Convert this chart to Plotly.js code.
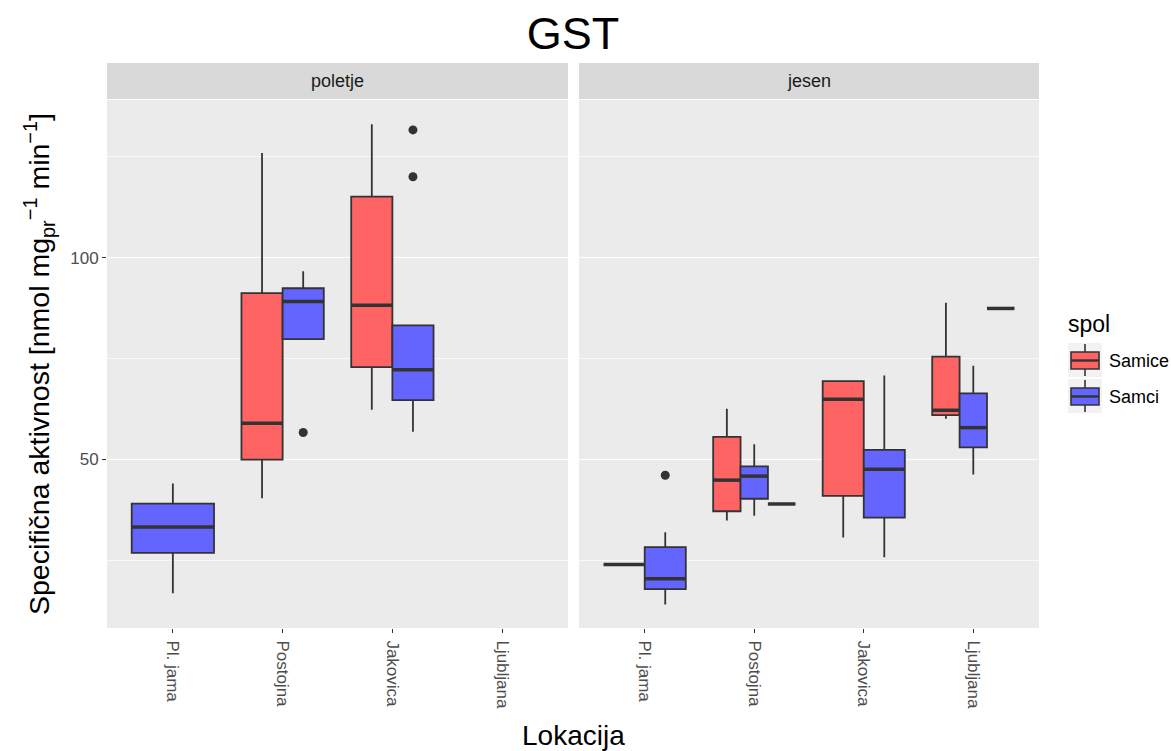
<!DOCTYPE html>
<html>
<head>
<meta charset="utf-8">
<script src="https://cdn.plot.ly/plotly-3.0.1.min.js"></script>
<style>body{margin:0;padding:0;background:#fff;}#chart{width:1171px;height:751px;}</style>
</head>
<body>
<div id="chart"></div>
<script>
// ---------------- DATA ----------------
const lokacije = ['Pl. jama', 'Postojna', 'Jakovica', 'Ljubljana'];
const sezone = ['poletje', 'jesen'];
const spoli = ['Samice', 'Samci', 'NA'];

// per location: [lowerfence, q1, median, q3, upperfence]; null = no data
const poletjeSamice = [null, [40.4, 50.0, 59.0, 91.2, 125.9], [62.3, 72.9, 88.2, 115.1, 133.0], null];
const poletjeSamci  = [[16.9, 26.9, 33.3, 39.1, 44.1], [79.8, 79.8, 89.1, 92.4, 96.6], [56.9, 64.7, 72.2, 83.2, 83.2], null];
const poletjeNA     = [null, null, null, null];
const jesenSamice   = [[24.0, 24.0, 24.0, 24.0, 24.0], [34.9, 37.2, 44.9, 55.6, 62.6], [30.7, 41.0, 64.9, 69.4, 69.4], [60.1, 61.0, 62.2, 75.5, 88.8]];
const jesenSamci    = [[14.1, 17.9, 20.5, 28.3, 32.0], [36.1, 40.3, 45.9, 48.3, 53.8], [25.8, 35.6, 47.6, 52.4, 70.8], [46.3, 53.0, 57.9, 66.4, 73.2]];
const jesenNA       = [null, [39.0, 39.0, 39.0, 39.0, 39.0], null, [87.4, 87.4, 87.4, 87.4, 87.4]];

// outliers per location
const poletjeSamciOut = [[], [56.7], [131.6, 120.0], []];
const jesenSamciOut   = [[46.1], [], [], []];
const noOut = [[], [], [], []];

// ---------------- STYLE ----------------
const barve = {Samice: '#FF6464', Samci: '#6464FF', NA: '#7F7F7F'};
const FONT = 'Liberation Sans, Arial, Helvetica, sans-serif';
const data = {
  poletje: {Samice: poletjeSamice, Samci: poletjeSamci, NA: poletjeNA},
  jesen:   {Samice: jesenSamice,   Samci: jesenSamci,   NA: jesenNA}
};
const outl = {
  poletje: {Samice: noOut, Samci: poletjeSamciOut, NA: noOut},
  jesen:   {Samice: noOut, Samci: jesenSamciOut,   NA: noOut}
};

const traces = [];
const totalW = 0.75;
sezone.forEach((s, si) => {
  const xa = si === 0 ? 'x' : 'x2';
  const medX = [], medY = [];
  const outX = [], outY = [];
  lokacije.forEach((lok, ci) => {
    const present = spoli.filter(g => data[s][g][ci]);
    const n = present.length;
    if (!n) return;
    const w = totalW / n;
    present.forEach((g, i) => {
      const st = data[s][g][ci];
      const pos = (ci + 1) - totalW / 2 + (i + 0.5) * w;
      traces.push({
        type: 'box', xaxis: xa, yaxis: 'y',
        x: [pos], lowerfence: [st[0]], q1: [st[1]], median: [st[2]], q3: [st[3]], upperfence: [st[4]],
        width: w, boxpoints: false, whiskerwidth: 0,
        fillcolor: barve[g], line: {color: '#333333', width: 1.8},
        showlegend: false, hoverinfo: 'skip', name: g
      });
      medX.push(pos - w / 2, pos + w / 2, null);
      medY.push(st[2], st[2], null);
      outl[s][g][ci].forEach(v => { outX.push(pos); outY.push(v); });
    });
  });
  traces.push({type: 'scatter', mode: 'lines', xaxis: xa, yaxis: 'y', x: medX, y: medY,
    line: {color: '#333333', width: 3.5}, showlegend: false, hoverinfo: 'skip'});
  traces.push({type: 'scatter', mode: 'markers', xaxis: xa, yaxis: 'y', x: outX, y: outY,
    marker: {color: '#333333', size: 9}, showlegend: false, hoverinfo: 'skip'});
});

// ---------------- LAYOUT ----------------
const L = 107, R = 1039, T = 100, B = 628;
const W = R - L, H = B - T;
const px = p => (p - L) / W;
const py = p => (B - p) / H;
const d1 = [0, px(568)], d2 = [px(579), 1];

const xax = dom => ({
  domain: dom, range: [0.4, 4.6], anchor: 'y',
  tickmode: 'array', tickvals: [1, 2, 3, 4], ticktext: lokacije, tickangle: 90,
  ticks: 'outside', ticklen: 4, tickwidth: 1.2, tickcolor: '#333333', ticklabelstandoff: 4,
  tickfont: {family: FONT, size: 17, color: '#4d4d4d'},
  showgrid: false, zeroline: false, showline: false, fixedrange: true
});

const shapes = [
  {type: 'rect', xref: 'paper', yref: 'paper', x0: d1[0], x1: d1[1], y0: py(99), y1: py(63), fillcolor: '#d9d9d9', line: {width: 0}},
  {type: 'rect', xref: 'paper', yref: 'paper', x0: d2[0], x1: d2[1], y0: py(99), y1: py(63), fillcolor: '#d9d9d9', line: {width: 0}}
];
const annotations = [
  {text: sezone[0], xref: 'paper', yref: 'paper', x: (d1[0] + d1[1]) / 2, y: py(81), showarrow: false,
   xanchor: 'center', yanchor: 'middle', font: {family: FONT, size: 18, color: '#1a1a1a'}},
  {text: sezone[1], xref: 'paper', yref: 'paper', x: (d2[0] + d2[1]) / 2, y: py(81), showarrow: false,
   xanchor: 'center', yanchor: 'middle', font: {family: FONT, size: 18, color: '#1a1a1a'}},
  {text: 'Lokacija', xref: 'paper', yref: 'paper', x: 0.5, y: py(735), showarrow: false,
   xanchor: 'center', yanchor: 'middle', font: {family: FONT, size: 28, color: '#000000'}},
  {text: 'Specifična aktivnost [nmol mg<sub>pr</sub><sup>−1</sup> min<sup>−1</sup>]', xref: 'paper', yref: 'paper',
   x: px(39), y: 0.5, textangle: -90, showarrow: false, xanchor: 'center', yanchor: 'middle',
   font: {family: FONT, size: 28.5, color: '#000000'}},
  {text: 'spol', xref: 'paper', yref: 'paper', x: px(1066), y: py(324), showarrow: false,
   xanchor: 'left', yanchor: 'middle', font: {family: FONT, size: 23, color: '#000000'}}
];

// legend keys (ggplot-style)
['Samice', 'Samci'].forEach((g, k) => {
  const top = [343, 379][k];
  shapes.push({type: 'rect', xref: 'paper', yref: 'paper', x0: px(1068), x1: px(1102), y0: py(top + 34), y1: py(top), fillcolor: '#f2f2f2', line: {width: 0}});
  shapes.push({type: 'line', xref: 'paper', yref: 'paper', x0: px(1085), x1: px(1085), y0: py(top + 33), y1: py(top + 1), line: {color: '#333333', width: 1.6}});
  shapes.push({type: 'rect', xref: 'paper', yref: 'paper', x0: px(1071), x1: px(1099), y0: py(top + 26), y1: py(top + 9), fillcolor: barve[g], line: {color: '#333333', width: 1.6}});
  shapes.push({type: 'line', xref: 'paper', yref: 'paper', x0: px(1071), x1: px(1099), y0: py(top + 17.5), y1: py(top + 17.5), line: {color: '#333333', width: 2.4}});
  annotations.push({text: g, xref: 'paper', yref: 'paper', x: px(1107), y: py(top + 18), showarrow: false,
    xanchor: 'left', yanchor: 'middle', font: {family: FONT, size: 18, color: '#000000'}});
});

const layout = {
  width: 1171, height: 751,
  margin: {l: L, r: 1171 - R, t: T, b: 751 - B, pad: 0},
  paper_bgcolor: '#ffffff', plot_bgcolor: '#ebebeb',
  title: {text: 'GST', font: {family: FONT, size: 45, color: '#000000'}, x: 0.5, xref: 'paper', xanchor: 'center',
          y: 1 - 33 / 751, yref: 'container', yanchor: 'middle'},
  showlegend: false, boxmode: 'overlay',
  xaxis: xax(d1),
  xaxis2: xax(d2),
  yaxis: {
    range: [8.3, 139], tickmode: 'array', tickvals: [50, 100], ticktext: ['50', '100'],
    ticks: 'outside', ticklen: 4, tickwidth: 1.2, tickcolor: '#333333',
    tickfont: {family: FONT, size: 17, color: '#4d4d4d'},
    showgrid: true, gridcolor: '#ffffff', gridwidth: 1.4,
    minor: {tickmode: 'array', tickvals: [25, 75, 125], showgrid: true, gridcolor: '#ffffff', gridwidth: 0.7, ticks: ''},
    zeroline: false, showline: false, fixedrange: true
  },
  shapes: shapes,
  annotations: annotations
};

Plotly.newPlot('chart', traces, layout, {displayModeBar: false, staticPlot: true});
</script>
</body>
</html>
